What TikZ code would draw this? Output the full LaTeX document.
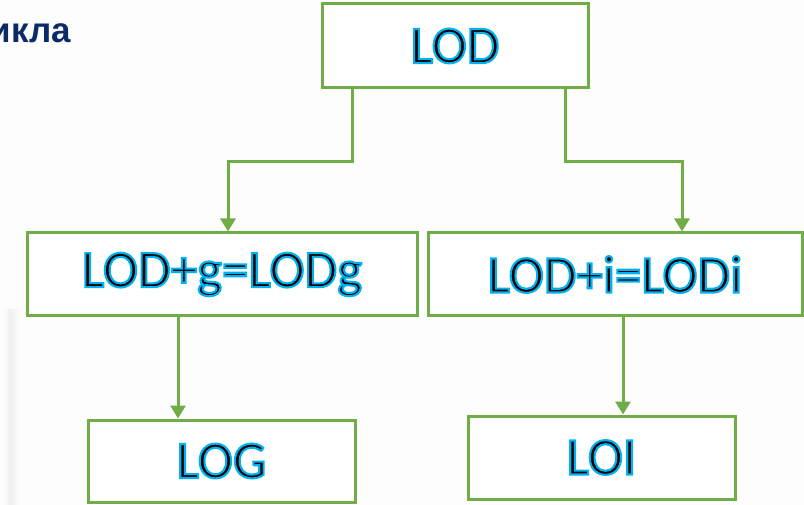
\documentclass[tikz,border=0pt]{standalone}
\usepackage{fontspec}
\setmainfont{Carlito}
\newfontfamily\headfont{Liberation Sans}
\usetikzlibrary{arrows.meta}

\definecolor{boxgreen}{HTML}{70AD47}
\definecolor{headnavy}{HTML}{0D2A68}
\definecolor{paper}{HTML}{FDFDFD}

% black glyphs stroked with a cyan outline (PDF text render mode 2)
\newcommand\glowtext[1]{%
  \leavevmode{\color{black}%
  \special{pdf:literal direct 2 Tr 2.1 w 0 0.69 0.941 RG}%
  #1%
  \special{pdf:literal direct 0 Tr}}}

\tikzset{
  box/.style={draw=boxgreen, line width=3pt, fill=white, rectangle,
    inner sep=0pt, font=\fontsize{53}{60}\selectfont},
  conn/.style={draw=boxgreen, line width=3pt,
    -{Triangle[width=15pt,length=13pt]}},
}

\begin{document}
\begin{tikzpicture}[x=1pt, y=-1pt]
  \useasboundingbox (0,0) rectangle (804,505);
  \clip (0,0) rectangle (804,505);
  \fill[paper] (0,0) rectangle (804,505);
  % faint shadow strip along the left edge
  \shade[left color=paper, right color=black!6]
    (2,310) rectangle (10,505);
  \shade[left color=black!6, right color=paper]
    (10,310) rectangle (20,505);

  % heading fragment
  \node[anchor=base east, inner sep=0pt, text=headnavy,
        font=\headfont\bfseries\fontsize{35}{42}\selectfont]
    (head) at (71,43) {икла};

  % boxes
  \node[box, minimum width=266pt, minimum height=84pt]
    (LOD) at (455,46) {\glowtext{LOD}};
  \node[box, minimum width=390pt, minimum height=83pt]
    (LODg) at (222,274.5) {\glowtext{LOD+g=LODg}};
  \node[box, minimum width=374pt, minimum height=83pt]
    (LODi) at (615,274.5) {\glowtext{LOD+i=LODi}};
  \node[box, minimum width=267pt, minimum height=82pt]
    (LOG) at (221.5,461) {\glowtext{LOG}};
  \node[box, minimum width=267pt, minimum height=83pt]
    (LOI) at (601.5,457.5) {\glowtext{LOI}};

  % connectors
  \draw[conn] ([xshift=-103pt]LOD.south) -- ++(0,72)
    -| ([xshift=6pt]LODg.north);
  \draw[conn] ([xshift=110pt]LOD.south) -- ++(0,72)
    -| ([xshift=67pt]LODi.north);
  \draw[conn] ([xshift=-44pt]LODg.south) -- ([xshift=-43.5pt]LOG.north);
  \draw[conn] ([xshift=8pt]LODi.south) -- ([xshift=21.5pt]LOI.north);
\end{tikzpicture}
\end{document}
